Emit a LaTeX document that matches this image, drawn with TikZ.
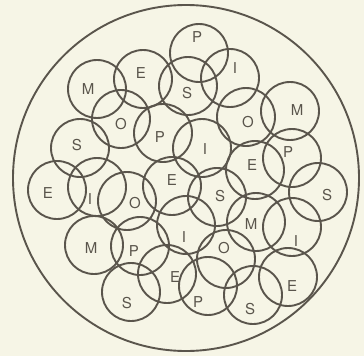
\documentclass[tikz,border=0pt]{standalone}
\usepackage{fontspec}
\setmainfont{TeX Gyre Heros}
\definecolor{bg}{RGB}{246,245,230}
\definecolor{ink}{RGB}{90,85,76}
\begin{document}
\begin{tikzpicture}[x=1pt,y=-1pt,
  ring/.style={draw=ink, line width=1.9pt, circle, minimum size=58pt, inner sep=0pt},
  lab/.style={text=ink, font=\fontsize{15}{15}\selectfont, inner sep=0pt}]
\fill[bg] (0,0) rectangle (364,356);
\useasboundingbox (0,0) rectangle (364,356);
\node[draw=ink, line width=1.9pt, circle, minimum size=346pt, inner sep=0pt] (outer) at (186,178) {};
\foreach \i/\cx/\cy/\lx/\ly/\t in {
 1/199/53/197/37/P, 2/143/79/141/73/E, 3/230/78/235/68/I, 4/97/89/88/89/M,
 5/188/86/187/93/S, 6/121/119/121/124/O, 7/246/117/248/122/O, 8/290/111/297/110/M,
 9/163/133/160/137/P, 10/202/148/205/149/I, 11/80/148/77/145/S, 12/255/170/252/165/E,
 13/292/158/288/152/P, 14/172/186/172/180/E, 15/217/197/220/196/S, 16/57/190/48/193/E,
 17/97/187/90/199/I, 18/127/201/135/203/O, 19/318/192/327/195/S, 20/256/222/251/224/M,
 21/292/227/296/241/I, 22/186/225/184/237/I, 23/94/245/91/248/M, 24/140/246/134/251/P,
 25/226/259/224/248/O, 26/167/274/175/277/E, 27/288/277/292/286/E, 28/131/292/127/303/S,
 29/208/286/198/302/P, 30/253/295/250/309/S}{
  \node[ring] (c\i) at (\cx,\cy) {};
  \node[lab] (l\i) at (\lx,\ly) {\t};
}
\end{tikzpicture}
\end{document}
